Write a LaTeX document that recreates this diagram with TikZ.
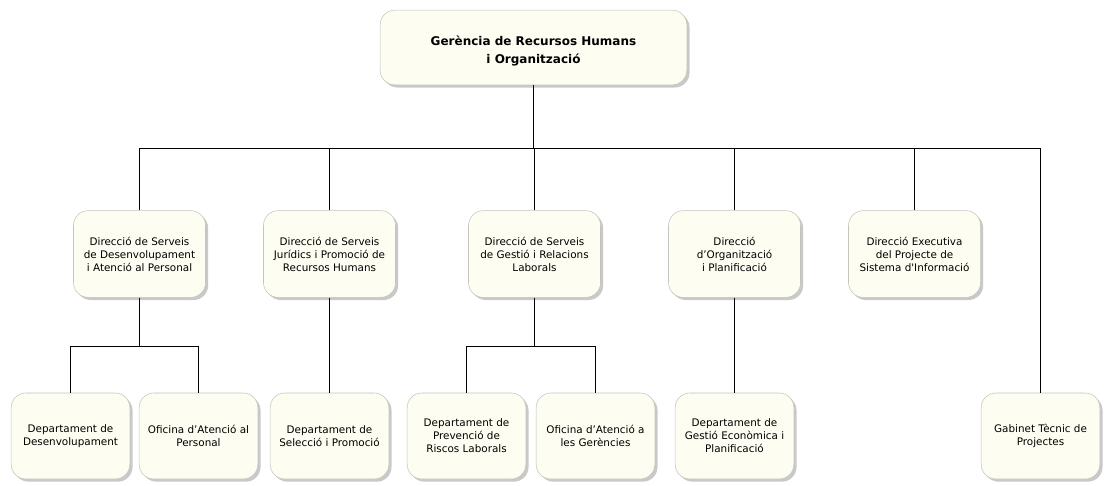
\documentclass[tikz,border=0pt]{standalone}
\usepackage{fontspec}
\setmainfont[Ligatures=TeXOff]{DejaVu Sans}
\usetikzlibrary{positioning}
\usetikzlibrary{shadows}

\definecolor{boxfill}{HTML}{FEFDF2}
\definecolor{boxline}{HTML}{C4C4BC}

\begin{document}
\begin{tikzpicture}[x=0.75pt, y=-0.75pt,
    unit/.style={draw=boxline, fill=boxfill, rounded corners=11pt, align=center,
      font=\fontsize{7.8}{9.8}\selectfont, inner sep=2pt,
      drop shadow={shadow xshift=2pt, shadow yshift=-2pt, fill=black!30, opacity=0.7}},
    head/.style={unit, minimum width=230pt, minimum height=56pt,
      font=\fontsize{9}{13.5}\selectfont\bfseries},
    dir/.style={unit, minimum width=99pt, minimum height=65pt},
    dept/.style={unit, minimum width=89pt, minimum height=64.5pt},
    link/.style={draw=black, line width=1.1pt}]
  \useasboundingbox (0,0) rectangle (1105,485);

  % top
  \node[head] (ger) at (533.5,47.5) {\rule{0pt}{13pt}Gerència de Recursos Humans\\i Organització};

  % direccions
  \node[dir] (dsd) at (139.5,254) {Direcció de Serveis\\de Desenvolupament\\i Atenció al Personal};
  \node[dir] (dsj) at (329.5,254) {Direcció de Serveis\\Jurídics i Promoció de\\Recursos Humans};
  \node[dir] (dsg) at (534.5,254) {Direcció de Serveis\\de Gestió i Relacions\\Laborals};
  \node[dir] (dop) at (734.5,254) {Direcció\\d’Organització\\i Planificació};
  \node[dir] (dex) at (914.5,254) {Direcció Executiva\\del Projecte de\\Sistema d'Informació};

  % departaments
  \node[dept] (ddes) at (70.5,436) {Departament de\\Desenvolupament};
  \node[dept] (oap)  at (198.5,436) {Oficina d’Atenció al\\Personal};
  \node[dept] (dsel) at (329.5,436) {Departament de\\Selecció i Promoció};
  \node[dept] (dprl) at (466.5,436) {Departament de\\Prevenció de\\Riscos Laborals};
  \node[dept] (oag)  at (595.5,436) {Oficina d’Atenció a\\les Gerències};
  \node[dept] (dgep) at (734.5,436) {Departament de\\Gestió Econòmica i\\Planificació};
  \node[dept] (gtp)  at (1040.5,436) {Gabinet Tècnic de\\Projectes};

  % connectors
  \coordinate (bar) at (533.5,148.5);
  \coordinate (sub1) at (139.5,346.5);
  \coordinate (sub3) at (534.5,346.5);
  \draw[link] (ger.south) -- (bar);
  \foreach \n in {dsd,dsj,dsg,dop,dex,gtp}
    \draw[link] (\n.north) |- (bar);
  \draw[link] (dsd.south) -- (sub1);
  \draw[link] (ddes.north) |- (sub1);
  \draw[link] (oap.north) |- (sub1);
  \draw[link] (dsj.south) -- (dsel.north);
  \draw[link] (dsg.south) -- (sub3);
  \draw[link] (dprl.north) |- (sub3);
  \draw[link] (oag.north) |- (sub3);
  \draw[link] (dop.south) -- (dgep.north);
\end{tikzpicture}
\end{document}
